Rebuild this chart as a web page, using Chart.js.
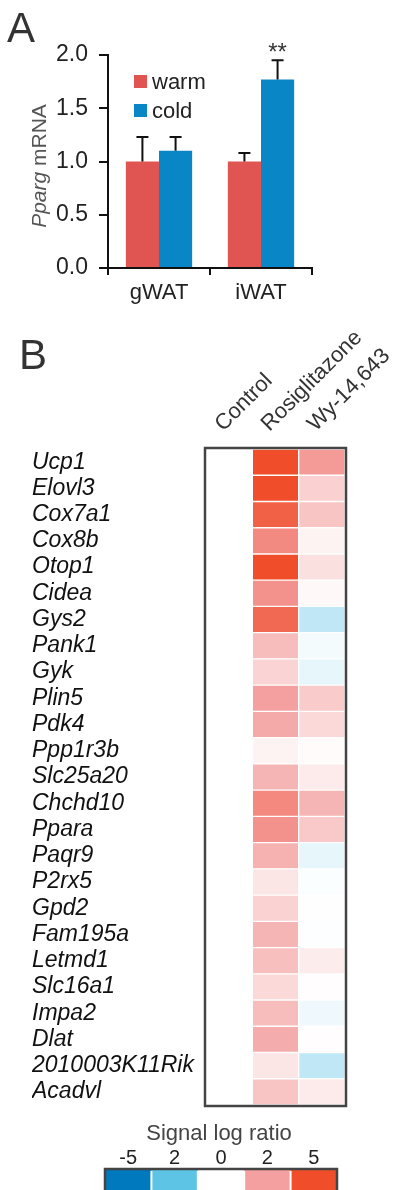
<!DOCTYPE html>
<html>
<head>
<meta charset="utf-8">
<script src="https://cdn.jsdelivr.net/npm/chart.js@4.4.1/dist/chart.umd.min.js"></script>
<style>
  html, body { margin: 0; padding: 0; background: #fff; }
  #page { position: relative; width: 401px; height: 1190px; overflow: hidden; }
  #barChart { position: absolute; left: 0; top: 0; }
  #heatChart { position: absolute; left: 0; top: 320px; }
</style>
</head>
<body>
<div id="page">
  <canvas id="barChart" width="401" height="310"></canvas>
  <canvas id="heatChart" width="401" height="870"></canvas>
</div>
<script>
// panel A - Pparg mRNA in warm / cold
const tissues = ["gWAT", "iWAT"];
const warmMean = [1.0, 1.0];
const warmErr = [0.23, 0.08];
const coldMean = [1.1, 1.77];
const coldErr = [0.13, 0.18];
const sigMarks = ["", "**"];
const yTicks = [0, 0.5, 1.0, 1.5, 2.0];

// panel B - signal log ratio heatmap
const genes = ["Ucp1", "Elovl3", "Cox7a1", "Cox8b", "Otop1", "Cidea", "Gys2", "Pank1", "Gyk",
  "Plin5", "Pdk4", "Ppp1r3b", "Slc25a20", "Chchd10", "Ppara", "Paqr9", "P2rx5", "Gpd2",
  "Fam195a", "Letmd1", "Slc16a1", "Impa2", "Dlat", "2010003K11Rik", "Acadvl"];
const treatments = ["Control", "Rosiglitazone", "Wy-14,643"];
const controlRatio = [0, 0, 0, 0, 0, 0, 0, 0, 0, 0, 0, 0, 0, 0, 0, 0, 0, 0, 0, 0, 0, 0, 0, 0, 0];
const rosiRatio = [5.0, 5.0, 4.3, 2.8, 5.0, 2.5, 4.0, 1.4, 0.9, 2.0, 1.8, 0.25, 1.55, 2.85, 2.5,
  1.65, 0.55, 0.95, 1.55, 1.35, 0.8, 1.4, 1.75, 0.55, 1.25];
const wyRatio = [2.2, 1.0, 1.25, 0.25, 0.65, 0.15, -0.8, -0.15, -0.3, 1.1, 0.8, 0.08, 0.45, 1.55,
  1.15, -0.3, -0.05, 0.02, -0.03, 0.4, 0.05, -0.2, 0.05, -0.8, 0.45];
const scaleStops = [-5, -2, 0, 2, 5];
const scaleColors = ["#0079be", "#5ec4e6", "#ffffff", "#f4a0a0", "#f04e2b"];
const scaleLabels = ["-5", "2", "0", "2", "5"];

const FONT = "'Liberation Sans', Arial, sans-serif";
Chart.defaults.font.family = FONT;
Chart.defaults.animation = false;

function hexRgb(h) {
  return [1, 3, 5].map((i) => parseInt(h.slice(i, i + 2), 16));
}

function ratioColor(v) {
  let i = 0;
  while (i < scaleStops.length - 2 && v > scaleStops[i + 1]) i++;
  const t = Math.min(1, Math.max(0, (v - scaleStops[i]) / (scaleStops[i + 1] - scaleStops[i])));
  const a = hexRgb(scaleColors[i]), b = hexRgb(scaleColors[i + 1]);
  const c = a.map((x, k) => Math.round(x + (b[k] - x) * t));
  return `rgb(${c[0]},${c[1]},${c[2]})`;
}

// error bars, asterisks, legend and "A"
const panelA = {
  id: "panelA",
  afterDatasetsDraw(chart) {
    const ctx = chart.ctx;
    const y = chart.scales.y;
    ctx.save();
    ctx.strokeStyle = "#111";
    ctx.lineWidth = 2;
    chart.data.datasets.forEach((ds, i) => {
      chart.getDatasetMeta(i).data.forEach((bar, j) => {
        const top = y.getPixelForValue(ds.data[j] + ds.err[j]);
        ctx.beginPath();
        ctx.moveTo(bar.x, bar.y);
        ctx.lineTo(bar.x, top);
        ctx.moveTo(bar.x - 6, top);
        ctx.lineTo(bar.x + 6, top);
        ctx.stroke();
        if (i === 1 && sigMarks[j]) {
          ctx.fillStyle = "#333";
          ctx.font = "24px " + FONT;
          ctx.textAlign = "center";
          ctx.textBaseline = "top";
          ctx.fillText(sigMarks[j], bar.x, top - 19);
        }
      });
    });

    // legend
    ctx.font = "22px " + FONT;
    ctx.textAlign = "left";
    ctx.textBaseline = "alphabetic";
    chart.data.datasets.forEach((ds, i) => {
      const yy = 75 + i * 29;
      ctx.fillStyle = ds.backgroundColor;
      ctx.fillRect(134, yy, 13, 13);
      ctx.fillStyle = "#222";
      ctx.fillText(ds.label, 152, yy + 14);
    });

    // panel letter
    ctx.fillStyle = "#333";
    ctx.font = "42px " + FONT;
    ctx.fillText("A", 7, 42);

    // y title with italic gene name
    ctx.translate(46, 166);
    ctx.rotate(-Math.PI / 2);
    ctx.fillStyle = "#555";
    ctx.font = "italic 21px " + FONT;
    const w1 = ctx.measureText("Pparg").width;
    ctx.font = "21px " + FONT;
    const w2 = ctx.measureText(" mRNA").width;
    const x0 = -(w1 + w2) / 2;
    ctx.font = "italic 21px " + FONT;
    ctx.fillText("Pparg", x0, 0);
    ctx.font = "21px " + FONT;
    ctx.fillText(" mRNA", x0 + w1, 0);
    ctx.restore();
  }
};

new Chart(document.getElementById("barChart"), {
  type: "bar",
  data: {
    labels: tissues,
    datasets: [
      { label: "warm", data: warmMean, err: warmErr, backgroundColor: "#e05552" },
      { label: "cold", data: coldMean, err: coldErr, backgroundColor: "#0986c5" }
    ]
  },
  options: {
    responsive: false,
    layout: { padding: { left: 0, top: 55, right: 89, bottom: 0 } },
    datasets: { bar: { categoryPercentage: 0.65, barPercentage: 1.0 } },
    plugins: { legend: { display: false }, tooltip: { enabled: false } },
    scales: {
      x: {
        border: { color: "#111", width: 2 },
        grid: { drawOnChartArea: false, drawTicks: true, tickLength: 7, color: "#111", lineWidth: 2 },
        ticks: { color: "#222", font: { size: 22 }, padding: 5 },
        afterFit: (s) => { s.height = 42; }
      },
      y: {
        min: 0,
        max: 2,
        afterBuildTicks: (s) => { s.ticks = yTicks.map((v) => ({ value: v })); },
        border: { color: "#111", width: 2 },
        grid: { drawOnChartArea: false, drawTicks: true, tickLength: 9, color: "#111", lineWidth: 2 },
        ticks: { color: "#222", font: { size: 23 }, padding: 11, callback: (v) => Number(v).toFixed(1) },
        afterFit: (s) => { s.width = 108; }
      }
    }
  },
  plugins: [panelA]
});

// frame, column headers, colour key and "B"
const panelB = {
  id: "panelB",
  afterDatasetsDraw(chart) {
    const ctx = chart.ctx;
    const a = chart.chartArea;
    const top = chart.scales.x2;
    ctx.save();
    ctx.strokeStyle = "#444";
    ctx.lineWidth = 2.5;
    ctx.strokeRect(a.left - 1, a.top - 1, a.right - a.left + 2, a.bottom - a.top + 2);

    // rotated treatment names
    ctx.fillStyle = "#333";
    ctx.font = "22px " + FONT;
    ctx.textAlign = "left";
    ctx.textBaseline = "alphabetic";
    treatments.forEach((name, i) => {
      ctx.save();
      ctx.translate(top.getPixelForTick(i) - 6, a.top - 17);
      ctx.rotate(-Math.PI / 4);
      ctx.fillText(name, 0, 0);
      ctx.restore();
    });

    // colour key
    const kx = 105, ky = 849, kw = 232, kh = 30;
    const seg = kw / scaleColors.length;
    ctx.fillStyle = "#444";
    ctx.textAlign = "center";
    ctx.fillText("Signal log ratio", kx + kw / 2 - 2, 820);
    ctx.font = "20px " + FONT;
    scaleColors.forEach((c, i) => {
      ctx.fillStyle = c;
      ctx.fillRect(kx + i * seg, ky, seg, kh);
      ctx.fillStyle = "#222";
      ctx.fillText(scaleLabels[i], kx + i * seg + seg / 2, 844);
    });
    ctx.strokeStyle = "#fff";
    ctx.lineWidth = 2;
    for (let i = 1; i < scaleColors.length; i++) {
      ctx.beginPath();
      ctx.moveTo(kx + i * seg, ky + 2);
      ctx.lineTo(kx + i * seg, ky + kh);
      ctx.stroke();
    }
    ctx.strokeStyle = "#444";
    ctx.lineWidth = 2.5;
    ctx.strokeRect(kx, ky, kw, kh);

    ctx.fillStyle = "#333";
    ctx.font = "42px " + FONT;
    ctx.textAlign = "left";
    ctx.fillText("B", 19, 49);
    ctx.restore();
  }
};

const columns = [controlRatio, rosiRatio, wyRatio];

new Chart(document.getElementById("heatChart"), {
  type: "bar",
  data: {
    labels: genes,
    datasets: columns.map((vals, k) => ({
      label: treatments[k],
      data: vals.map(() => [k, k + 1]),
      backgroundColor: vals.map(ratioColor),
      borderColor: "#fff",
      borderWidth: 1,
      borderSkipped: false,
      grouped: false
    }))
  },
  options: {
    responsive: false,
    indexAxis: "y",
    layout: { padding: { left: 32, top: 0, right: 56, bottom: 85 } },
    datasets: { bar: { categoryPercentage: 1.0, barPercentage: 1.0 } },
    plugins: { legend: { display: false }, tooltip: { enabled: false } },
    scales: {
      x: { type: "linear", min: 0, max: treatments.length, display: false },
      x2: {
        type: "category",
        labels: treatments,
        position: "top",
        offset: true,
        grid: { display: false },
        border: { display: false },
        ticks: { display: false },
        afterFit: (s) => { s.height = 129; s.paddingLeft = 0; s.paddingRight = 0; }
      },
      y: {
        type: "category",
        offset: true,
        grid: { display: false },
        border: { display: false },
        ticks: { autoSkip: false, crossAlign: "far", color: "#111", font: { size: 23, style: "italic" } },
        afterFit: (s) => { s.width = 174; }
      }
    }
  },
  plugins: [panelB]
});
</script>
</body>
</html>
